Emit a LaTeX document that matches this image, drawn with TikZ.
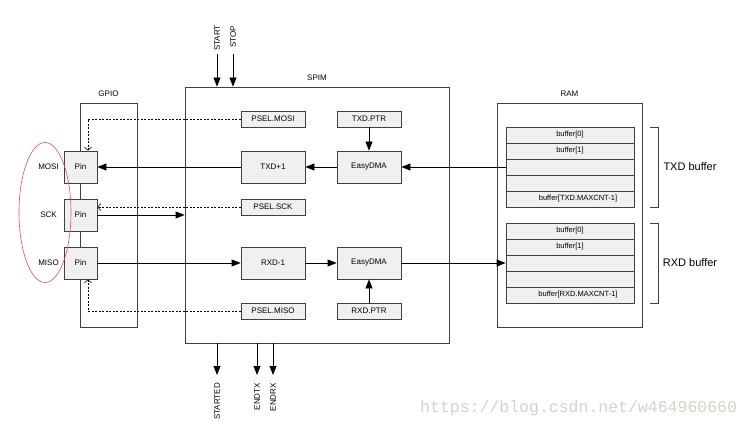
\documentclass[tikz,border=0pt]{standalone}
\usepackage{fontspec}
\setmainfont{Liberation Sans}
\newfontfamily\wmfont{Liberation Mono}
\usetikzlibrary{arrows.meta}
\usetikzlibrary{positioning}
\definecolor{boxgray}{HTML}{F0F0F0}
\definecolor{edgegray}{HTML}{404040}
\definecolor{markred}{HTML}{E8504F}
\definecolor{wmgray}{HTML}{D6D2CA}
\tikzset{sigline/.style = {line width=0.8pt, -{Triangle[length=9pt,width=7pt]}}}
\tikzset{selline/.style = {line width=0.6pt, dash pattern=on 2pt off 1.5pt, -{Straight Barb[length=3pt,width=7pt]}}}
\tikzset{unitbox/.style = {draw=edgegray, line width=0.8pt, inner sep=0}}
\tikzset{regbox/.style = {unitbox, fill=boxgray, minimum width=64pt, minimum height=16pt, font=\fontsize{8}{9}\selectfont}}
\tikzset{dmabox/.style = {regbox, minimum height=32pt}}
\tikzset{pinbox/.style = {regbox, minimum width=33pt, minimum height=32pt}}
\tikzset{cellbox/.style = {regbox, minimum width=128pt, font=\fontsize{7.5}{9}\selectfont}}
\tikzset{txt/.style = {inner sep=0, font=\fontsize{8}{9}\selectfont}}

\begin{document}
\begin{tikzpicture}[x=1pt,y=-1pt]
        \useasboundingbox (0,0) rectangle (751,427);
        \node[unitbox, minimum width=57pt, minimum height=224pt] (gpio) at (108.5,215) {};
        \node[unitbox, minimum width=264pt, minimum height=256pt] (spim) at (317,215) {};
        \node[unitbox, minimum width=145pt, minimum height=224pt] (ram) at (569.5,215) {};
        \node[txt, above=6pt of gpio] (gpiolbl) {GPIO};
        \node[txt, above=6pt of spim] (spimlbl) {SPIM};
        \node[txt, above=6pt of ram] (ramlbl) {RAM};
        \node[pinbox] (mosi) at (80.5,167) {Pin};
        \node[pinbox] (sck) at (80.5,215) {Pin};
        \node[pinbox] (miso) at (80.5,263) {Pin};
        \node[txt] (mosilbl) at (48.5,167) {MOSI};
        \node[txt] (scklbl) at (48.5,215) {SCK};
        \node[txt] (misolbl) at (48.5,263) {MISO};
        \draw[markred, line width=0.6pt] (45,212.5) ellipse [x radius=26pt, y radius=70pt];
        \node[regbox] (pselmosi) at (273,119) {PSEL.MOSI};
        \node[regbox] (txdptr) at (369,119) {TXD.PTR};
        \node[dmabox] (txdinc) at (273,167) {TXD+1};
        \node[dmabox] (dmatx) at (369,167) {EasyDMA};
        \node[regbox] (pselsck) at (273,207) {PSEL.SCK};
        \node[dmabox] (rxddec) at (273,263) {RXD-1};
        \node[dmabox] (dmarx) at (369,263) {EasyDMA};
        \node[regbox] (pselmiso) at (273,311) {PSEL.MISO};
        \node[regbox] (rxdptr) at (369,311) {RXD.PTR};
        \foreach \t [count=\i from 0] in {buffer[0],buffer[1],{},{},{\hspace*{16pt}buffer[TXD.MAXCNT-1]}}
            \node[cellbox] (txd\i) at (570,135+16*\i) {\t};
        \foreach \t [count=\i from 0] in {buffer[0],buffer[1],{},{},{\hspace*{16pt}buffer[RXD.MAXCNT-1]}}
            \node[cellbox] (rxd\i) at (570,231+16*\i) {\t};
        \draw[edgegray, line width=0.8pt] (650,127) -- (658,127) -- (658,207) -- (650,207);
        \draw[edgegray, line width=0.8pt] (650,223) -- (658,223) -- (658,303) -- (650,303);
        \node[txt, font=\fontsize{11}{13}\selectfont] (txdbuf) at (690,167) {TXD buffer};
        \node[txt, font=\fontsize{11}{13}\selectfont] (rxdbuf) at (690,263) {RXD buffer};
        \draw[sigline] (txdptr) -- (dmatx);
        \draw[sigline] (txd2.west) -- (dmatx.east);
        \draw[sigline] (dmatx) -- (txdinc);
        \draw[sigline] (txdinc) -- (mosi);
        \draw[sigline] (sck.east) -- (sck.east -| spim.west);
        \draw[sigline] (miso) -- (rxddec);
        \draw[sigline] (rxddec) -- (dmarx);
        \draw[sigline] (rxdptr) -- (dmarx);
        \draw[sigline] (dmarx.east) -- (rxd2.west);
        \draw[selline] (pselmosi.west) -| ([xshift=7.5pt]mosi.north);
        \draw[selline] (pselsck.west) -- (pselsck.west -| sck.east);
        \draw[selline] (pselmiso.west) -| ([xshift=7.5pt]miso.south);
        \coordinate (startin) at (217,54);
        \coordinate (stopin) at (233,54);
        \draw[sigline] (startin) -- (startin |- spim.north);
        \draw[sigline] (stopin) -- (stopin |- spim.north);
        \node[txt, rotate=90, anchor=west] (startlbl) at (217,51) {START};
        \node[txt, rotate=90, anchor=west] (stoplbl) at (233,48) {STOP};
        \coordinate (startedout) at (217,375);
        \coordinate (endtxout) at (257,375);
        \coordinate (endrxout) at (273,375);
        \draw[sigline] (startedout |- spim.south) -- (startedout);
        \draw[sigline] (endtxout |- spim.south) -- (endtxout);
        \draw[sigline] (endrxout |- spim.south) -- (endrxout);
        \node[txt, rotate=90, anchor=east] (startedlbl) at (217,383) {STARTED};
        \node[txt, rotate=90, anchor=east] (endtxlbl) at (257,383) {ENDTX};
        \node[txt, rotate=90, anchor=east] (endrxlbl) at (273,383) {ENDRX};
        \node[inner sep=0, anchor=west, text=wmgray, font=\wmfont\fontsize{16.5}{18}\selectfont] (wmark) at (420,408) {https://blog.csdn.net/w464960660};
    \end{tikzpicture}
\end{document}
